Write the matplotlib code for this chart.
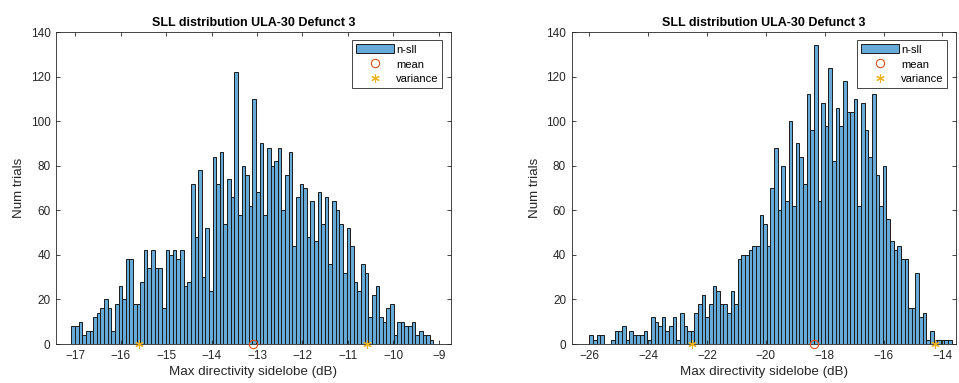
import matplotlib
matplotlib.use("Agg")
import matplotlib.pyplot as plt
import numpy as np

plt.rcParams['font.family'] = ['Liberation Sans', 'DejaVu Sans']

# histogram counts, 100 bins each
counts_a = [8, 8, 10, 4, 6, 6, 12, 14, 16, 20, 16, 6, 18, 26, 20, 38, 38, 18, 18, 28,
            42, 34, 42, 34, 34, 16, 42, 40, 42, 38, 42, 26, 28, 72, 48, 78, 30, 52, 24, 84,
            72, 86, 54, 74, 66, 122, 58, 80, 76, 62, 110, 68, 90, 58, 88, 80, 82, 88, 60, 76,
            86, 44, 66, 72, 70, 48, 64, 46, 68, 54, 66, 36, 64, 60, 54, 32, 52, 44, 28, 24,
            36, 32, 12, 22, 26, 12, 10, 16, 18, 4, 10, 10, 8, 8, 10, 4, 6, 4, 4, 2]
range_a = (-17.08, -9.12)
mean_a = -13.09
var_a = 2.5

counts_b = [4, 2, 4, 4, 0, 0, 2, 6, 6, 8, 2, 6, 4, 4, 4, 6, 2,
            12, 10, 8, 12, 6, 8, 12, 2, 14, 8, 6, 6, 14, 18, 22, 12, 18, 26, 24, 18,
            18, 14, 24, 18, 38, 40, 40, 42, 44, 44, 58, 54,
            44, 70, 88, 60, 80, 64, 100, 62, 90, 84, 72, 112, 96, 134, 64, 108, 98, 124,
            82, 106, 98, 118, 104, 104, 110, 62, 108, 96, 84, 112,
            76, 62, 80, 56, 46, 42, 44, 38, 38, 16, 16, 32, 12, 14, 2, 6, 2, 2, 2, 2, 2]
range_b = (-26.0, -13.69)
mean_b = -18.37
var_b = 4.13

title = "SLL distribution ULA-30 Defunct 3"
xlab = "Max directivity sidelobe (dB)"
ylab = "Num trials"

bar_col = (0.4, 0.668, 0.845)
mean_col = (0.85, 0.325, 0.098)
var_col = (0.929, 0.694, 0.125)
axcol = (0.15, 0.15, 0.15)

fig = plt.figure(figsize=(9.59, 3.83), dpi=100)
ax1 = fig.add_axes([0.0584, 0.1018, 0.4116, 0.8146])
ax2 = fig.add_axes([0.5961, 0.1018, 0.4005, 0.8146])


def draw(ax, counts, rng, mean, var, xlim, xticks):
    edges = np.linspace(rng[0], rng[1], len(counts) + 1)
    b = ax.bar(edges[:-1], counts, width=np.diff(edges), align='edge',
               color=bar_col, edgecolor=(0.1, 0.1, 0.1), linewidth=0.7, label='n-sll')
    m, = ax.plot([mean], [0], 'o', mfc='none', mec=mean_col, ms=6, mew=0.8,
                 clip_on=False, label='mean', zorder=5)
    v, = ax.plot([mean - var, mean + var], [0, 0], ls='none', marker=(6, 2, 0),
                 color=var_col, ms=6, mew=0.8, clip_on=False, label='variance', zorder=5)
    ax.set_xlim(xlim)
    ax.set_ylim(0, 140)
    ax.set_xticks(xticks)
    ax.set_yticks(np.arange(0, 141, 20))
    ax.tick_params(direction='in', length=3, width=0.6, top=True, right=True,
                   colors=axcol, labelsize=8.5, pad=4)
    for s in ax.spines.values():
        s.set_color(axcol)
        s.set_linewidth(0.6)
    ax.set_title(title, fontsize=9, fontweight='bold', pad=4)
    ax.set_xlabel(xlab, fontsize=9.6, color=axcol, labelpad=3)
    ax.set_ylabel(ylab, fontsize=9.6, color=axcol, labelpad=4)
    leg = ax.legend([b, m, v], ['n-sll', 'mean', 'variance'], loc='upper right',
                    fontsize=8, handlelength=3.4, handleheight=0.9,
                    handletextpad=0.2, borderpad=0.35, labelspacing=0.4,
                    fancybox=False, framealpha=1, borderaxespad=0.75)
    leg.get_frame().set_edgecolor(axcol)
    leg.get_frame().set_linewidth(0.6)


draw(ax1, counts_a, range_a, mean_a, var_a, (-17.42, -8.74), np.arange(-17, -8))
draw(ax2, counts_b, range_b, mean_b, var_b, (-26.6, -13.55), np.arange(-26, -13, 2))

fig.savefig("out.png", dpi=100)
